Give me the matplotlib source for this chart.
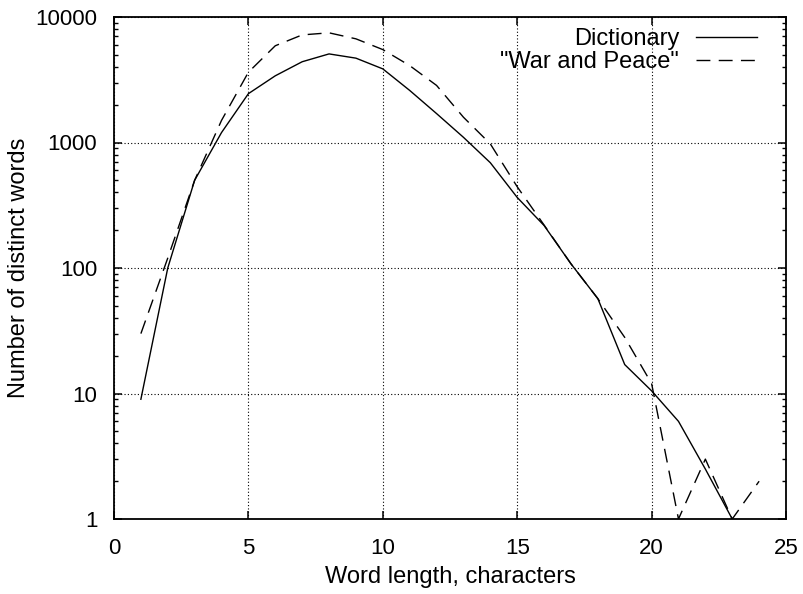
import matplotlib
matplotlib.use("Agg")
import matplotlib.pyplot as plt
from matplotlib.ticker import LogLocator, NullFormatter, FixedLocator

plt.rcParams['font.family'] = ['Liberation Sans', 'DejaVu Sans']

dict_len = [1, 2, 3, 4, 5, 6, 7, 8, 9, 10, 11, 12, 13, 14, 15, 16, 17, 18, 19, 20, 21, 22, 23]
dict_cnt = [9, 100, 500, 1200, 2450, 3400, 4400, 5080, 4700, 3860, 2600, 1700, 1100, 690,
            365, 218, 108, 57, 17, 10.5, 6, 2.5, 1]

wp_len = [1, 2, 3, 4, 5, 6, 7, 8, 9, 10, 11, 12, 13, 14, 15, 16, 17, 18, 19, 20, 21, 22, 23, 24]
wp_cnt = [30, 120, 500, 1500, 3630, 5900, 7200, 7480, 6700, 5500, 4100, 2850, 1590, 975,
          444, 220, 108, 57, 28, 12, 1, 3, 1, 2]

x_ticks = [0, 5, 10, 15, 20, 25]
y_ticks = [1, 10, 100, 1000, 10000]
y_tick_labels = ['1', '10', '100', '1000', '10000']

fig = plt.figure(figsize=(8.04, 5.94), dpi=100)
ax = fig.add_axes([114/804, 1-519/594, 672/804, 502/594])

ax.plot(dict_len, dict_cnt, color='black', lw=1.0, label='Dictionary')
ln, = ax.plot(wp_len, wp_cnt, color='black', lw=1.0, label='"War and Peace"')
ln.set_dashes((10, 6))

ax.set_yscale('log')
ax.set_xlim(0, 25)
ax.set_ylim(1, 10000)
ax.xaxis.set_major_locator(FixedLocator(x_ticks))
ax.set_xticklabels([str(t) for t in x_ticks])
ax.yaxis.set_major_locator(FixedLocator(y_ticks))
ax.set_yticklabels(y_tick_labels)
ax.yaxis.set_minor_locator(LogLocator(base=10, subs=range(2, 10), numticks=20))
ax.yaxis.set_minor_formatter(NullFormatter())

ax.tick_params(axis='both', which='major', direction='in', length=6, width=1.1,
               top=True, right=True, labelsize=16, color='black')
ax.tick_params(axis='y', which='minor', direction='in', length=3, width=1.0,
               left=True, right=True)
ax.tick_params(axis='x', which='major', pad=14)
ax.tick_params(axis='y', which='major', pad=12)

for s in ax.spines.values():
    s.set_linewidth(1.3)

ax.grid(True, which='major', linestyle=(0, (1, 2)), color='black', lw=0.8)

ax.set_xlabel('Word length, characters', fontsize=17, labelpad=5)
ax.set_ylabel('Number of distinct words', fontsize=17, labelpad=4)

ax.legend(loc='upper right', bbox_to_anchor=(0.957, 0.978), frameon=False,
          markerfirst=False, fontsize=17, handlelength=2.6, handletextpad=0.7,
          labelspacing=0.05, borderpad=0, borderaxespad=0)

fig.savefig('out.png', dpi=100)
